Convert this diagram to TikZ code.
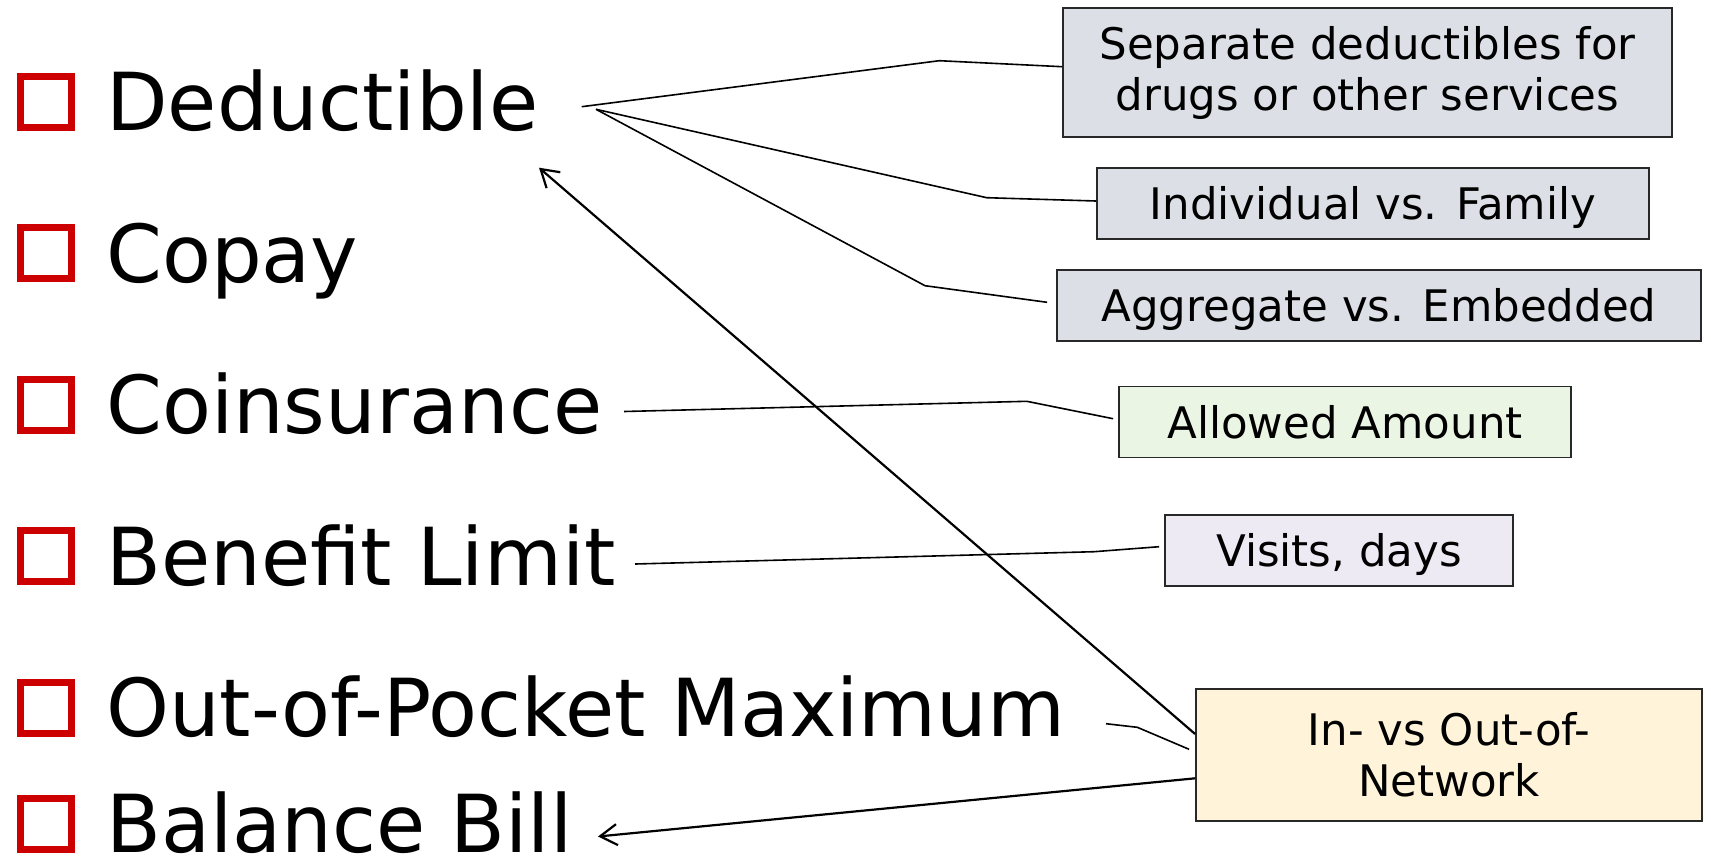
\documentclass[tikz,border=0pt]{standalone}
\usepackage{fontspec}
\setmainfont{DejaVu Sans}
\usetikzlibrary{arrows.meta,calc}
\definecolor{bulletred}{RGB}{204,0,0}
\definecolor{boxedge}{RGB}{40,40,40}
\definecolor{boxgray}{RGB}{220,224,230}
\definecolor{boxgreen}{RGB}{235,245,228}
\definecolor{boxlilac}{RGB}{238,234,244}
\definecolor{boxyellow}{RGB}{255,244,218}
\begin{document}
\begin{tikzpicture}[x=1pt,y=-1pt,
  itemlabel/.style={anchor=base west,inner sep=0pt,font=\fontsize{80}{96}\selectfont},
  bulletbox/.style={draw=bulletred,line width=7pt,minimum size=51pt,inner sep=0pt},
  notebox/.style={draw=boxedge,line width=1.8pt,inner sep=0pt,align=center,
    font=\fontsize{43.5}{51}\selectfont},
  oneline/.style={text height=40pt,text depth=8pt},
  linkline/.style={line width=1.6pt},
  pointarrow/.style={line width=2.2pt,-{Straight Barb[length=17pt,width=21pt]}}
]
\useasboundingbox (0,0) rectangle (1711,855);
\clip (0,0) rectangle (1711,855);

% bullet list on the left
\foreach \n/\y in {b1/130.5,b2/282,b3/433.5,b4/585,b5/736.5,b6/852.5}
  \node[bulletbox] (\n) at (45.5,\y-29) {};
\node[itemlabel] (ded)  at (106,130.5) {Deductible};
\node[itemlabel] (cop)  at (106,282)   {Copay};
\node[itemlabel] (coi)  at (106,433.5) {Coinsurance};
\node[itemlabel] (ben)  at (106,585)   {Benefit Limit};
\node[itemlabel] (oop)  at (106,736.5) {Out-of-Pocket Maximum};
\node[itemlabel] (bal)  at (106,852.5) {Balance Bill};

% explanation boxes on the right
\node[notebox,fill=boxgray,minimum width=609pt,minimum height=129pt] (sep) at (1367.5,72.5)
  {Separate deductibles for\\drugs or other services};
\node[notebox,oneline,fill=boxgray,minimum width=552pt,minimum height=71pt] (ind) at (1373,203.5)
  {Individual vs. Family};
\node[notebox,oneline,fill=boxgray,minimum width=644pt,minimum height=71pt] (agg) at (1379,305.5)
  {Aggregate vs. Embedded};
\node[notebox,oneline,fill=boxgreen,minimum width=452pt,minimum height=71pt] (alw) at (1345,422)
  {Allowed Amount};
\node[notebox,oneline,fill=boxlilac,minimum width=348pt,minimum height=71pt] (vis) at (1339,550.5)
  {Visits, days};
\node[notebox,fill=boxyellow,minimum width=506pt,minimum height=132pt] (net) at (1449,755)
  {In- vs Out-of-\\Network};

% free ends and bends of the connectors
\coordinate (dA) at (581.7,106.7);
\coordinate (dB) at (596,109.3);
\coordinate (k1) at (939.3,60.7);
\coordinate (k2) at (986.7,197.7);
\coordinate (k3) at (925,285.7);
\coordinate (cA) at (624,411.5);
\coordinate (k4) at (1026.8,401.3);
\coordinate (bA) at (635,564);
\coordinate (k5) at (1094,551.7);
\coordinate (oA) at (1106,723.7);
\coordinate (k6) at (1137.3,727.3);
\coordinate (dTip) at (539,167.7);
\coordinate (bTip) at (598,836.5);

\draw[linkline] (dA) -- (k1) -- ($(sep.west)+(0,-5.8)$);
\draw[linkline] (dB) -- (k2) -- ($(ind.west)+(0,-2.5)$);
\draw[linkline] (dB) -- (k3) -- ($(agg.west)+(-9,-3.2)$);
\draw[linkline] (cA) -- (k4) -- ($(alw.west)+(-5,-3.3)$);
\draw[linkline] (bA) -- (k5) -- ($(vis.west)+(-5,-3.8)$);
\draw[linkline] (oA) -- (k6) -- ($(net.west)+(-6,-5.7)$);

\draw[pointarrow] ($(net.west)+(0,-21)$) -- (dTip);
\draw[pointarrow] ($(net.west)+(0,23.3)$) -- (bTip);
\end{tikzpicture}
\end{document}
